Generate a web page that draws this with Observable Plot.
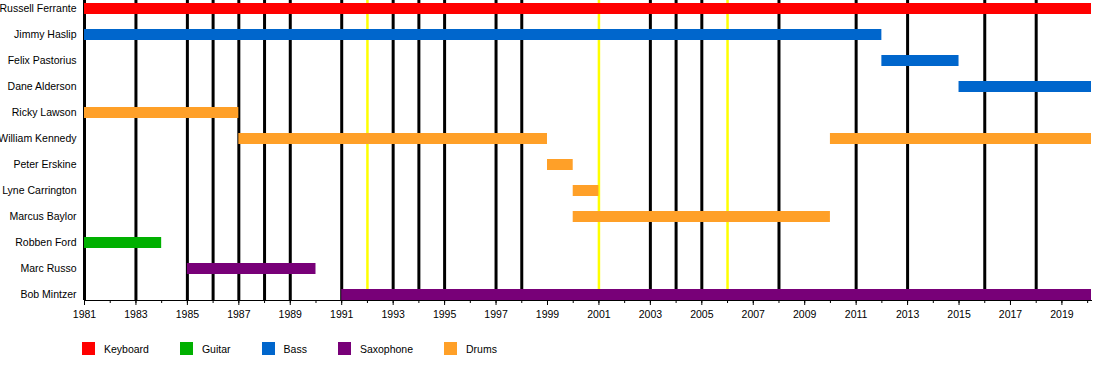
<!DOCTYPE html>
<html>
<head>
<meta charset="utf-8">
<script src="https://cdn.jsdelivr.net/npm/d3@7"></script>
<script src="https://cdn.jsdelivr.net/npm/@observablehq/plot@0.6"></script>
<style>
  body { margin: 0; background: #fff; font-family: "Liberation Sans", Arial, sans-serif; }
  #legend { display: flex; align-items: center; margin-top: 17px; padding-left: 82px; font-size: 10.5px; color: #000; }
  #legend .item { display: flex; align-items: center; margin-right: 31px; }
  #legend .sw { width: 13px; height: 13px; margin-right: 9px; }
</style>
</head>
<body>
<div id="chart"></div>
<div id="legend"></div>
<script>
// ---- data ----
const members = ["Russell Ferrante","Jimmy Haslip","Felix Pastorius","Dane Alderson","Ricky Lawson","William Kennedy","Peter Erskine","Lyne Carrington","Marcus Baylor","Robben Ford","Marc Russo","Bob Mintzer"];
const instruments = ["Keyboard","Guitar","Bass","Saxophone","Drums"];
const instrumentColors = ["#ff0000","#00b000","#0066cc","#780078","#ffa028"];
const startYear = 1981;
const endYear = 2020.15;
const stintMember = ["Russell Ferrante","Jimmy Haslip","Felix Pastorius","Dane Alderson","Ricky Lawson","William Kennedy","Peter Erskine","Lyne Carrington","Marcus Baylor","William Kennedy","Robben Ford","Marc Russo","Bob Mintzer"];
const stintInstrument = ["Keyboard","Bass","Bass","Bass","Drums","Drums","Drums","Drums","Drums","Drums","Guitar","Saxophone","Saxophone"];
const stintStart = [1981,1981,2012,2015,1981,1987,1999,2000,2000,2010,1981,1985,1991];
const stintEnd = [endYear,2012,2015,endYear,1987,1999,2000,2001,2010,endYear,1984,1990,endYear];
const studioAlbums = [1981,1983,1985,1986,1987,1988,1989,1991,1993,1994,1995,1997,1998,2003,2004,2005,2008,2011,2013,2016,2018];
const liveAlbums = [1992,2001,2006];
const yearTicks = d3.range(1981, 2021);
const labelTicks = d3.range(1981, 2021, 2);

const stints = stintMember.map((m, i) => ({member: m, instrument: stintInstrument[i], start: stintStart[i], end: stintEnd[i]}));

const chart = Plot.plot({
  width: 1100,
  height: 325,
  marginLeft: 84,
  marginRight: 9,
  marginTop: 0,
  marginBottom: 25,
  style: {fontFamily: '"Liberation Sans", Arial, sans-serif', fontSize: "10.5px", color: "#000", background: "#fff"},
  x: {domain: [startYear, endYear], label: null},
  y: {type: "point", domain: members, range: [6.5, 295], padding: 0, label: null},
  color: {domain: instruments, range: instrumentColors},
  marks: [
    Plot.ruleX(studioAlbums, {x: d => d, stroke: "#000", strokeWidth: 3}),
    Plot.ruleX(liveAlbums, {x: d => d, stroke: "#ffff00", strokeWidth: 2.5}),
    Plot.ruleY(stints, {y: "member", x1: "start", x2: "end", stroke: "instrument", strokeWidth: 11}),
    Plot.frame({anchor: "bottom", stroke: "#000", strokeWidth: 1}),
    Plot.axisX({ticks: yearTicks, tickSize: 3, tickFormat: () => "", stroke: "#000", label: null}),
    Plot.axisX({ticks: labelTicks, tickSize: 5, tickPadding: 5, tickFormat: d => String(d), stroke: "#000", fill: "#000", label: null}),
    Plot.axisY({tickSize: 0, tickPadding: 8, fill: "#000", label: null})
  ]
});
document.getElementById("chart").appendChild(chart);

const legend = document.getElementById("legend");
instruments.forEach((name, i) => {
  const item = document.createElement("div");
  item.className = "item";
  const sw = document.createElement("div");
  sw.className = "sw";
  sw.style.background = instrumentColors[i];
  const label = document.createElement("span");
  label.textContent = name;
  item.appendChild(sw);
  item.appendChild(label);
  legend.appendChild(item);
});
</script>
</body>
</html>
